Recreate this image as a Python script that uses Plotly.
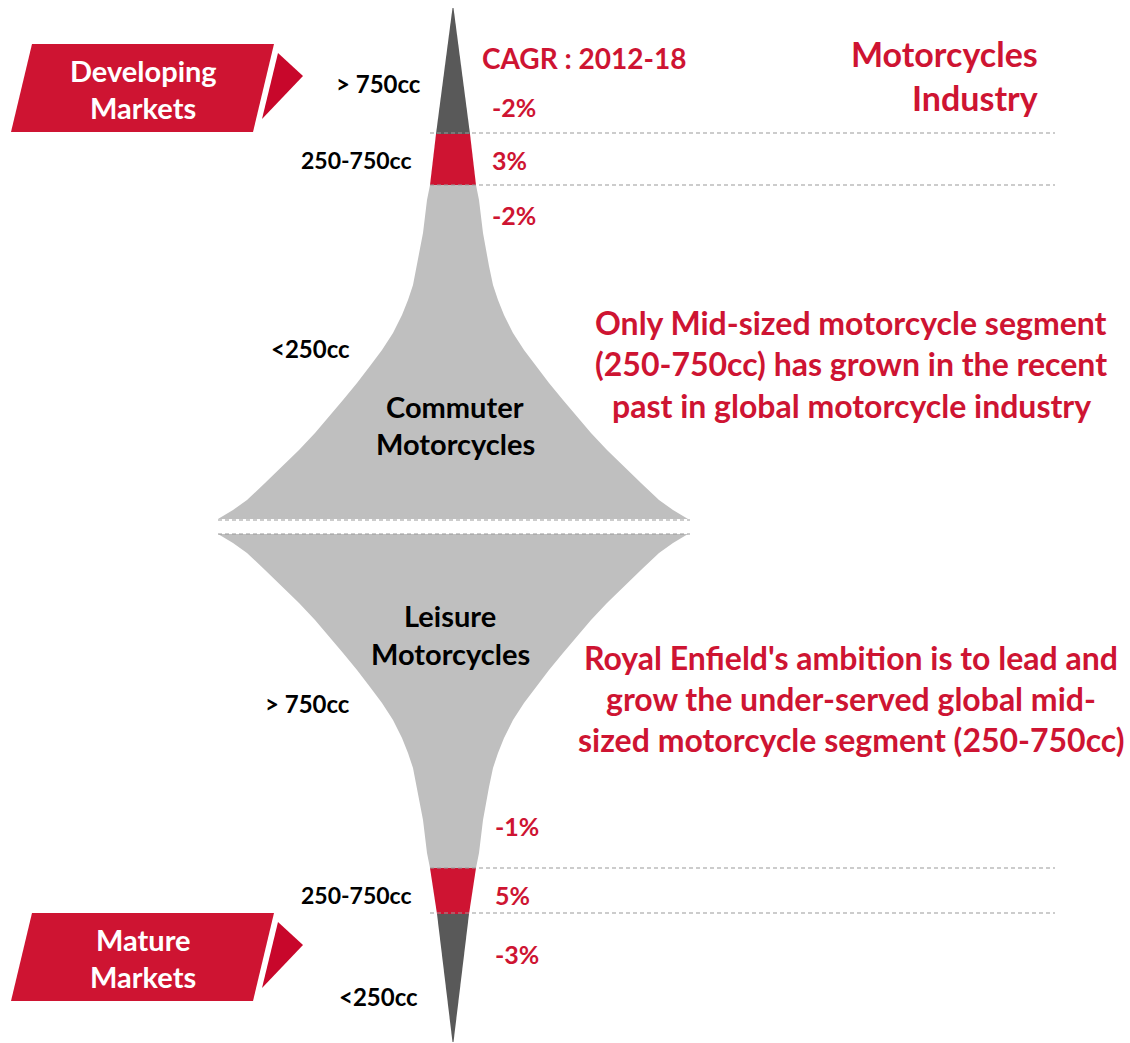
import plotly.graph_objects as go

# ---------------- data ----------------
segments_developing = ["> 750cc", "250-750cc", "<250cc"]
cagr_developing = ["-2%", "3%", "-2%"]
segments_mature = ["> 750cc", "250-750cc", "<250cc"]
cagr_mature = ["-1%", "5%", "-3%"]
cagr_title = "CAGR : 2012-18"
title_lines = ["Motorcycles", "Industry"]
market_labels = [["Developing", "Markets"], ["Mature", "Markets"]]
volume_labels = [["Commuter", "Motorcycles"], ["Leisure", "Motorcycles"]]
note_top = ["Only Mid-sized motorcycle segment",
            "(250-750cc) has grown in the recent",
            "past in global motorcycle industry"]
note_bottom = ["Royal Enfield's ambition is to lead and",
               "grow the under-served global mid-",
               "sized motorcycle segment (250-750cc)"]

# flared body profile: distance from neck -> half width
profile_dist = [0, 15, 48, 81, 100, 115, 130, 148, 165, 181, 198, 215, 232, 248, 265, 281, 298, 315, 325, 334]
profile_half = [23, 26, 30, 36, 40, 45, 51, 60, 71, 83, 96, 110, 124, 138, 154, 170, 188, 206, 220, 235]

# ---------------- layout constants ----------------
W, H = 1130, 1043
CX = 453
RED = "#CE1432"
DARK = "#595959"
LIGHT = "#BFBFBF"
FONT = "Lato"

fig = go.Figure()


def poly(xs, ys, color):
    fig.add_trace(go.Scatter(x=xs + [xs[0]], y=ys + [ys[0]], mode="lines", fill="toself",
                             fillcolor=color, line=dict(width=0, color=color),
                             hoverinfo="skip", showlegend=False))


def trapezoid(y0, h0, y1, h1, color):
    poly([CX - h0, CX + h0, CX + h1, CX - h1], [y0, y0, y1, y1], color)


# ---- Developing markets funnel (top) ----
top_tip, top_b1, top_b2, top_base = 8, 134, 185, 520
trapezoid(top_tip, 0.5, top_b1, 17, DARK)
trapezoid(top_b1, 17, top_b2, 23, RED)
ys = [top_b2 + d for d in profile_dist]
xl = [CX - h for h in profile_half]
xr = [CX + h for h in profile_half]
poly(xl + xr[::-1], ys + ys[::-1], LIGHT)

# ---- Mature markets funnel (bottom) ----
bot_base, bot_b1, bot_b2, bot_tip = 534, 868, 914, 1042
ys = [bot_b1 - d for d in profile_dist]
poly(xl + xr[::-1], ys + ys[::-1], LIGHT)
trapezoid(bot_b1, 23, bot_b2, 16, RED)
trapezoid(bot_b2, 16, bot_tip, 0.5, DARK)

# ---- banners ----
for top in (44, 913):
    poly([32, 274, 253, 11], [top, top, top + 88, top + 88], RED)
    poly([278, 303, 262], [top + 9, top + 32, top + 75], "#C8072B")

shapes = []
def dash(x0, x1, y):
    shapes.append(dict(type="line", xref="x", yref="y", x0=x0, x1=x1, y0=y, y1=y,
                       line=dict(color="#9A9A9A", width=1.2, dash="4px,3px")))

dash(430, 1055, 133)
dash(430, 1055, 185)
dash(218, 690, 520)
dash(218, 690, 534)
dash(430, 1055, 868)
dash(430, 1055, 913)

ann = []
def txt(x, y, s, size, color="black", xa="center"):
    ann.append(dict(x=x, y=y, xref="x", yref="y", text="<b>" + s + "</b>", showarrow=False,
                    xanchor=xa, yanchor="middle",
                    font=dict(family=FONT, size=size, color=color)))

# banner texts
for (l1, l2), top in zip(market_labels, (44, 913)):
    txt(143, top + 26, l1, 29, "white")
    txt(143, top + 63, l2, 29, "white")

# title
txt(1040, 53, title_lines[0], 34, RED, "right")
txt(1040, 97, title_lines[1], 34, RED, "right")
txt(480, 58, cagr_title, 28, RED, "left")

# developing segment labels
txt(423, 83, segments_developing[0], 24, "black", "right")
txt(414, 160, segments_developing[1], 23, "black", "right")
txt(352, 348, segments_developing[2], 24, "black", "right")
for s, y in zip(cagr_developing, (107, 160, 215)):
    txt(490, y, s, 25, RED, "left")

# mature segment labels
txt(352, 703, segments_mature[0], 24, "black", "right")
txt(414, 895, segments_mature[1], 23, "black", "right")
txt(420, 996, segments_mature[2], 24, "black", "right")
for s, y in zip(cagr_mature, (826, 895, 954)):
    txt(493, y, s, 25, RED, "left")

# volume labels
txt(455, 406, volume_labels[0][0], 29)
txt(455, 443, volume_labels[0][1], 29)
txt(450, 615, volume_labels[1][0], 29)
txt(450, 653, volume_labels[1][1], 29)

# notes
for s, y in zip(note_top, (322, 363, 405)):
    txt(851, y, s, 32, RED)
for s, y in zip(note_bottom, (657, 698, 739)):
    txt(851, y, s, 32, RED)

fig.update_layout(
    width=W, height=H, margin=dict(l=0, r=0, t=0, b=0),
    paper_bgcolor="white", plot_bgcolor="white",
    xaxis=dict(range=[0, W], visible=False, fixedrange=True),
    yaxis=dict(range=[H, 0], visible=False, fixedrange=True),
    shapes=shapes, annotations=ann, showlegend=False,
)

fig.write_html("out.html", config={"displayModeBar": False, "staticPlot": True},
               post_script="document.body.style.margin='0px';document.body.style.overflow='hidden';")
